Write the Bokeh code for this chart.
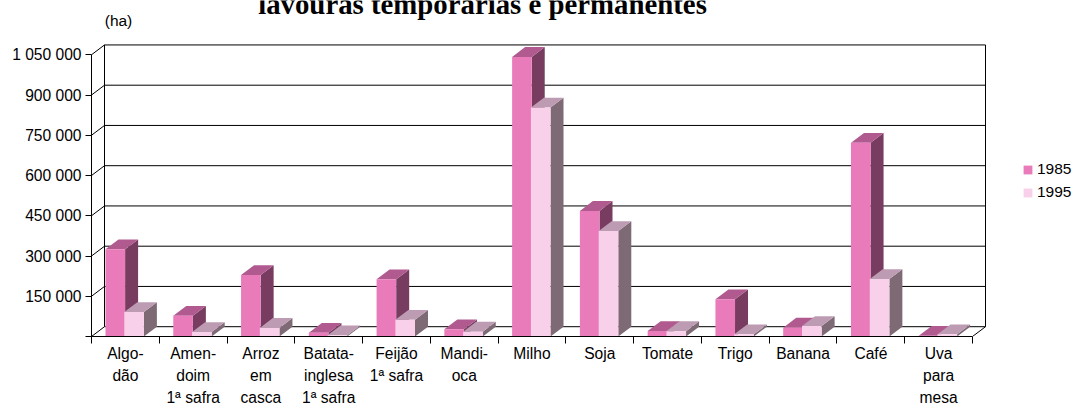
from bokeh.plotting import figure
from bokeh.embed import file_html
from bokeh.resources import INLINE
from bokeh.models import FixedTicker, Label, Legend, LegendItem, Range1d

categories = ["Algo-\ndão", "Amen-\ndoim\n1ª safra", "Arroz\nem\ncasca", "Batata-\ninglesa\n1ª safra",
              "Feijão\n1ª safra", "Mandi-\noca", "Milho", "Soja", "Tomate", "Trigo", "Banana", "Café", "Uva\npara\nmesa"]
series_1985 = [325000, 77500, 229000, 14000, 213000, 27000, 1042000, 468000, 20500, 138600, 33000, 722000, 3000]
series_1995 = [91000, 17000, 32000, 4500, 62500, 18000, 853000, 393000, 20000, 8000, 39000, 214000, 8000]
y_ticks = [0, 150000, 300000, 450000, 600000, 750000, 900000, 1050000]
y_labels = ["", "150 000", "300 000", "450 000", "600 000", "750 000", "900 000", "1 050 000"]
title_text = "lavouras temporárias e permanentes"
unit_text = "(ha)"
legend_labels = ["1985", "1995"]
colors_1985 = ("#EA7BBB", "#B05A90", "#783C60")
colors_1995 = ("#F9D0E9", "#BD9CB3", "#7E6A75")

W, H = 1076, 405
L, B = 91, 336
px_x = 67.77
px_y = 40.25 / 150000
DX, DY = 13 / px_x, 9.8 / px_y
x_end = (W - L) / px_x
y_end = B / px_y

p = figure(frame_width=W - L, frame_height=B, output_backend="svg", toolbar_location=None,
           x_range=Range1d(0, x_end), y_range=Range1d(0, y_end),
           min_border_left=L, min_border_right=0, min_border_top=0, min_border_bottom=H - B,
           outline_line_color=None)
p.grid.visible = False
p.background_fill_color = "white"

ncat = len(categories)
top = y_ticks[-1]
xs, ys = [], []
for t in y_ticks:
    xs.append([0, DX, ncat + DX]); ys.append([t, t + DY, t + DY])
xs.append([DX, DX]); ys.append([DY, top + DY])
xs.append([ncat + DX, ncat + DX]); ys.append([DY, top + DY])
xs.append([ncat, ncat + DX]); ys.append([0, DY])
p.multi_line(xs, ys, line_color="#000000", line_width=1)

bar_w = 19.6 / px_x
off = 14 / px_x
def bar(x0, v, cols):
    x1 = x0 + bar_w
    p.patch([x1, x1, x1 + DX, x1 + DX], [0, v, v + DY, DY], fill_color=cols[2], line_color=None)
    p.patch([x0, x1, x1 + DX, x0 + DX], [v, v, v + DY, v + DY], fill_color=cols[1], line_color=None)
    return p.quad(left=x0, right=x1, bottom=0, top=v, fill_color=cols[0], line_color=None)

first = []
for i in range(ncat):
    a = bar(i + off, series_1985[i], colors_1985)
    b = bar(i + off + bar_w - 0.8 / px_x, series_1995[i], colors_1995)
    if i == 0:
        first = [a, b]

leg = Legend(items=[LegendItem(label=legend_labels[0], renderers=[first[0]]),
                    LegendItem(label=legend_labels[1], renderers=[first[1]])],
             location=(1022 - L, B - 201), border_line_color=None, background_fill_alpha=0,
             label_text_font="Liberation Sans", label_text_font_size="15.5px", label_text_color="#000000",
             glyph_width=11, glyph_height=11, label_standoff=4, spacing=5, margin=0, padding=0)
p.add_layout(leg, "center")

ya = p.yaxis[0]
ya.ticker = FixedTicker(ticks=y_ticks)
ya.major_label_overrides = {t: s for t, s in zip(y_ticks, y_labels)}
ya.bounds = (0, top)
ya.major_tick_in = 0
ya.major_tick_out = 6
ya.minor_tick_out = 0
ya.minor_tick_in = 0
ya.major_label_standoff = 4
ya.major_label_text_font = "Liberation Sans"
ya.major_label_text_font_size = "15.6px"
ya.major_label_text_color = "#000000"
ya.axis_line_color = "#000000"
ya.major_tick_line_color = "#000000"

xa = p.xaxis[0]
centres = [i + 0.5 for i in range(ncat)]
xa.ticker = FixedTicker(ticks=centres, minor_ticks=list(range(ncat + 1)))
xa.major_label_overrides = {c: s for c, s in zip(centres, categories)}
xa.bounds = (0, ncat)
xa.major_tick_in = 0
xa.major_tick_out = 0
xa.minor_tick_in = 0
xa.minor_tick_out = 7
xa.major_label_standoff = 1
xa.major_label_orientation = "horizontal"
xa.major_label_text_font = "Liberation Sans"
xa.major_label_text_font_size = "15.6px"
xa.major_label_text_line_height = 1.3
xa.major_label_text_color = "#000000"
xa.axis_line_color = "#000000"
xa.minor_tick_line_color = "#000000"

p.add_layout(Label(x=482 - L, y=B - 3.5, x_units="screen", y_units="screen", text=title_text,
                   text_font="Liberation Serif", text_font_style="bold", text_font_size="28.8px",
                   text_align="center", text_baseline="alphabetic", text_color="#000000"))
p.add_layout(Label(x=118 - L, y=B - 20, x_units="screen", y_units="screen", text=unit_text,
                   text_font="Liberation Sans", text_font_size="15.5px",
                   text_align="center", text_baseline="alphabetic", text_color="#000000"))

open("out.html", "w").write(file_html(p, INLINE))
